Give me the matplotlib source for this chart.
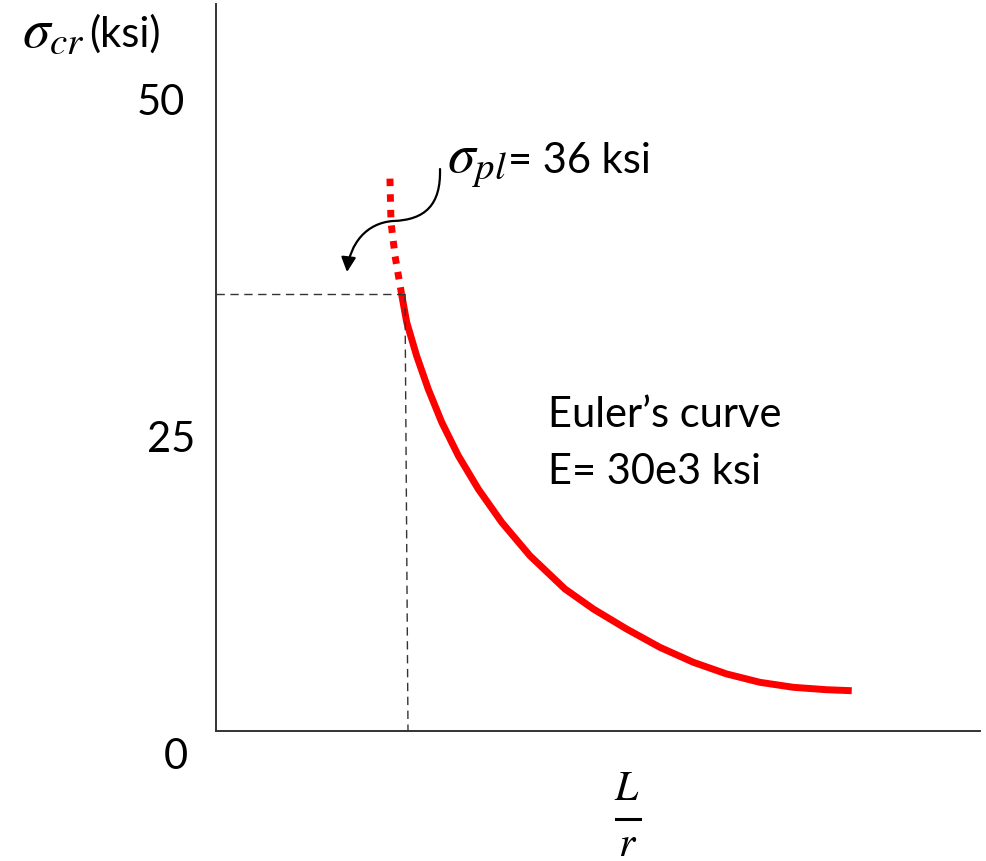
import matplotlib
matplotlib.use("Agg")
import matplotlib.pyplot as plt
from matplotlib.path import Path
from matplotlib.patches import FancyArrowPatch

plt.rcParams["font.family"] = ["Lato", "DejaVu Sans"]
plt.rcParams["mathtext.fontset"] = "stix"

# slenderness L/r and critical stress (ksi)
lr_solid = [86.3, 88.7, 93.3, 98.7, 105.0, 112.7, 122.0, 132.9, 146.0, 162.3,
            175.5, 191.0, 206.5, 222.0, 237.5, 253.0, 268.5, 284.0, 295.7]
sig_solid = [36.0, 33.67, 30.91, 28.17, 25.43, 22.68, 19.93, 17.19, 14.44, 11.70,
             10.05, 8.40, 6.89, 5.66, 4.70, 4.01, 3.60, 3.40, 3.32]
lr_dotted = [80.9, 81.4, 83.3, 86.3]
sig_dotted = [45.5, 41.9, 39.1, 36.0]

sigma_pl = 36.0
lr_pl = [87.9, 89.3]   # vertical guide (top, bottom)

tick_labels = ["50", "25", "0"]

W, H = 987, 862
fig = plt.figure(figsize=(W / 100, H / 100), dpi=100)

# main axes, placed to match the drawing
x0, x1, y0, y1 = 216, 980, 5, 732
ax = fig.add_axes([x0 / W, (H - y1) / H, (x1 - x0) / W, (y1 - y0) / H])
ax.set_xlim(0, (x1 - x0) / 2.15)
ax.set_ylim(0, (y1 - y0) / 12.14)
for s in ["top", "right"]:
    ax.spines[s].set_visible(False)
for s in ["left", "bottom"]:
    ax.spines[s].set_color("#333333")
    ax.spines[s].set_linewidth(1.4)
ax.set_xticks([])
ax.set_yticks([])

ax.plot(lr_solid, sig_solid, color="#ff0000", lw=5, solid_capstyle="butt",
        solid_joinstyle="round")
ax.plot(lr_dotted, sig_dotted, color="#ff0000", lw=5,
        linestyle=(0, (1.08, 1.17)), dash_capstyle="butt")

# dashed guides at the proportional limit
ax.plot([0, lr_pl[0]], [sigma_pl, sigma_pl], color="#333333", lw=1,
        linestyle=(0, (6, 4)))
ax.plot(lr_pl, [sigma_pl, 0], color="#333333", lw=1, linestyle=(0, (6, 4)))

# overlay in pixel coordinates for the labels
ann = fig.add_axes([0, 0, 1, 1])
ann.set_xlim(0, W)
ann.set_ylim(H, 0)
ann.axis("off")

fs = 30
mfs = 40
for lab, (tx, ty) in zip(tick_labels, [(161, 103), (171, 440), (176, 757)]):
    ann.text(tx, ty, lab, fontsize=fs, ha="center", va="center")

ann.text(22, 46, r"$\sigma_{cr}$", fontsize=mfs, ha="left", va="baseline")
ann.text(89, 47, "(ksi)", fontsize=fs, ha="left", va="baseline")

ann.text(447, 172, r"$\sigma_{pl}$", fontsize=mfs, ha="left", va="baseline")
ann.text(508, 173, "= 36 ksi", fontsize=fs, ha="left", va="baseline")

ann.text(548, 427, "Euler\u2019s curve", fontsize=fs, ha="left", va="baseline")
ann.text(548, 484, "E= 30e3 ksi", fontsize=fs, ha="left", va="baseline")

# L/r axis label as a stacked fraction
ann.text(627, 800, r"$L$", fontsize=fs, ha="center", va="baseline")
ann.plot([616, 640], [820, 820], color="black", lw=2.2)
ann.text(628, 856, r"$r$", fontsize=fs, ha="center", va="baseline")

# curved arrow pointing at the dotted part
verts = [(440, 170), (441, 206), (425, 221), (393, 222),
         (366, 224), (350, 245), (347, 273)]
codes = [Path.MOVETO, Path.CURVE4, Path.CURVE4, Path.CURVE4,
         Path.CURVE4, Path.CURVE4, Path.CURVE4]
arrow = FancyArrowPatch(path=Path(verts, codes), arrowstyle="-|>",
                        mutation_scale=22, lw=1.6, color="black",
                        transform=ann.transData)
ann.add_patch(arrow)

fig.savefig("out.png", dpi=100)
